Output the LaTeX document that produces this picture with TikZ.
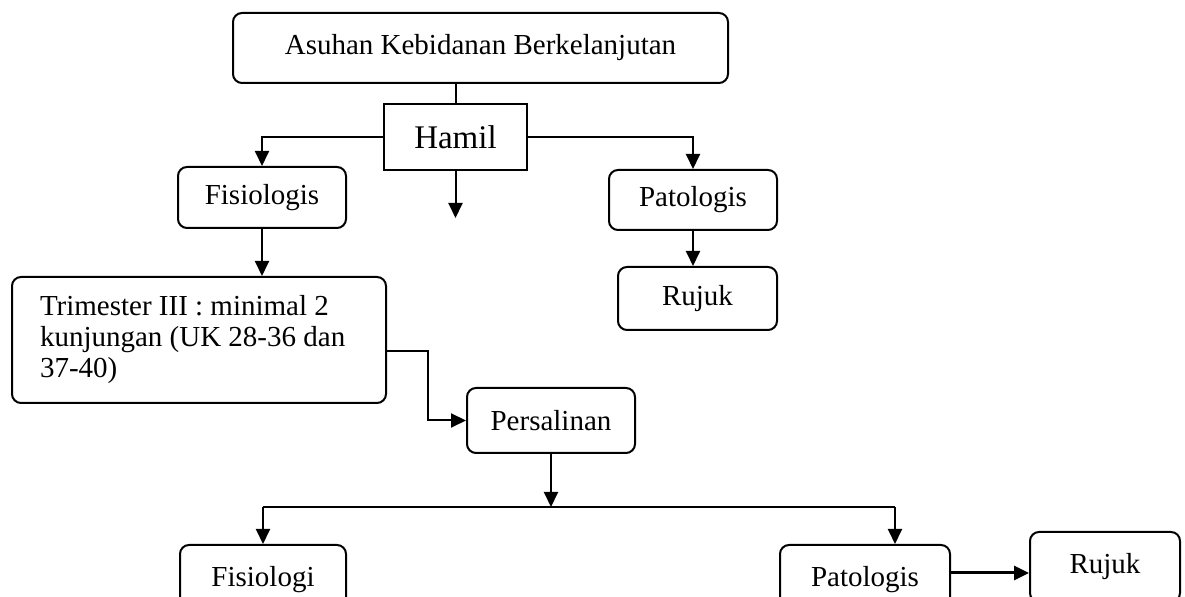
\documentclass[tikz,border=0pt]{standalone}
\usepackage{fontspec}
\setmainfont{Liberation Serif}
\usetikzlibrary{arrows.meta}

\begin{document}
\begin{tikzpicture}[x=0.5pt, y=-0.5pt, >={Triangle[length=7.5pt,width=7pt]},
  bx/.style={draw, line width=1pt, rounded corners=4.5pt, align=center,
    font=\fontsize{14.5}{15.5}\selectfont, inner sep=2pt},
  sq/.style={draw, line width=1pt, align=center,
    font=\fontsize{16.5}{18}\selectfont, inner sep=2pt},
  e/.style={->, line width=1pt}]
\useasboundingbox (0,0) rectangle (1185,597);
% kotak utama
\node[bx, minimum width=247.5pt, minimum height=35pt] (asuhan) at (480.5,48) {Asuhan Kebidanan Berkelanjutan};
\node[sq, minimum width=71.5pt, minimum height=33pt] (hamil) at (455.5,137) {Hamil};
\node[bx, minimum width=84pt, minimum height=30.5pt] (fis) at (262,197.5) {Fisiologis};
\node[bx, minimum width=84pt, minimum height=30pt] (pat) at (693,200) {Patologis};
\node[bx, minimum width=79.5pt, minimum height=31.5pt] (rujuk) at (697.5,298.5) {Rujuk};
\node[bx, minimum width=187pt, minimum height=63pt, text width=159pt, inner xsep=14pt, align=flush left] (tri) at (199,340)
  {Trimester III : minimal 2\\kunjungan (UK 28-36 dan\\37-40)};
\node[bx, minimum width=84pt, minimum height=32.5pt] (pers) at (551,420.5) {Persalinan};
% baris bawah
\node[bx, minimum width=83pt, minimum height=35pt] (fis2) at (263,580) {Fisiologi};
\node[bx, minimum width=85pt, minimum height=35pt] (pat2) at (865,580) {Patologis};
\node[bx, minimum width=75pt, minimum height=35pt] (rujuk2) at (1105,567) {Rujuk};
\coordinate (bawah) at (455.5,218);
\coordinate (belok) at (428,351);
\coordinate (cabang) at (551,507);
\coordinate (kanan) at (895,507);
% panah
\draw[line width=1pt] (hamil.north |- asuhan.south) -- (hamil.north);
\draw[e] (hamil.west) -| (fis.north);
\draw[e] (hamil.east) -| (pat.north);
\draw[e] (hamil.south) -- (bawah);
\draw[e] (fis.south) -- (fis.south |- tri.north);
\draw[e] (pat.south) -- (pat.south |- rujuk.north);
\draw[e] (tri.east |- belok) -- (belok) |- (pers.west);
\draw[e] (pers.south) -- (cabang);
\draw[line width=1pt] (fis2.north |- cabang) -- (kanan);
\draw[e] (fis2.north |- cabang) -- (fis2.north);
\draw[e] (kanan) -- (kanan |- pat2.north);
\draw[e, line width=1.5pt] ([yshift=3.5pt]pat2.east) -- ([yshift=3.5pt]pat2.east -| rujuk2.west);
\end{tikzpicture}
\end{document}
